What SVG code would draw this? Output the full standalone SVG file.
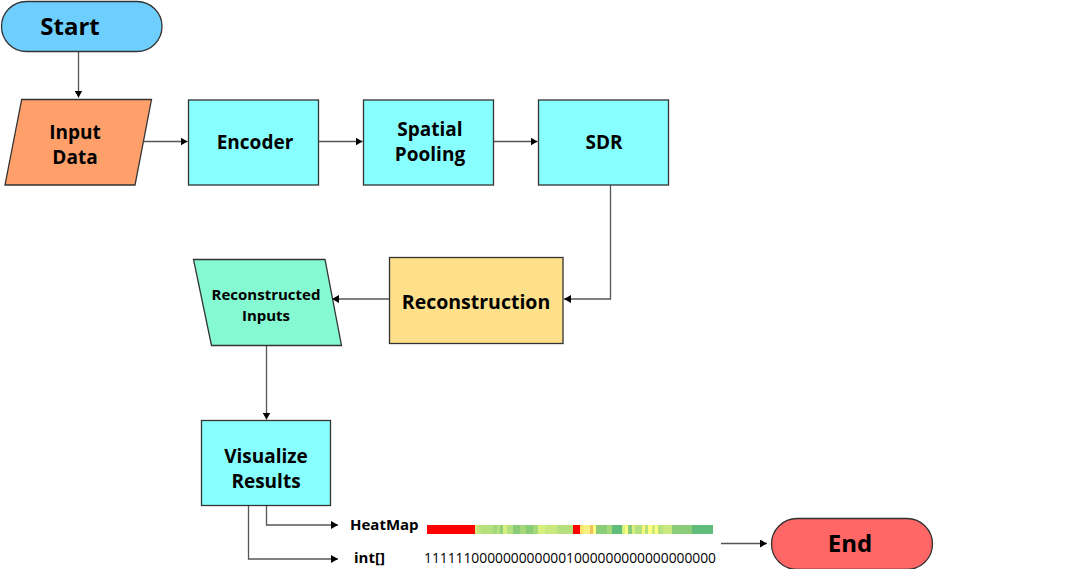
<svg xmlns="http://www.w3.org/2000/svg" width="1066" height="569" viewBox="0 0 1066 569">
<style>
.n{stroke:#333;stroke-width:1.3}
.t{font-family:"Open Sans","Liberation Sans",sans-serif;font-weight:700;fill:#000;text-anchor:middle}
.c{fill:none;stroke:#555;stroke-width:1.3}
</style>
<defs>
<marker id="ah" viewBox="0 0 10 10" refX="10" refY="5" markerWidth="7" markerHeight="8" markerUnits="userSpaceOnUse" orient="auto" preserveAspectRatio="none"><path d="M0,0L10,5L0,10Z" fill="#000"/></marker>
</defs>
<rect width="1066" height="569" fill="#fff"/>
<g id="connectors">
<path class="c" d="M78.5,52V97.5" marker-end="url(#ah)"/>
<path class="c" d="M143.5,141.5H187.5" marker-end="url(#ah)"/>
<path class="c" d="M318.5,141.5H362.5" marker-end="url(#ah)"/>
<path class="c" d="M493.5,141.5H537.5" marker-end="url(#ah)"/>
<path class="c" d="M610.5,185V299H564" marker-end="url(#ah)"/>
<path class="c" d="M389.5,299H332" marker-end="url(#ah)"/>
<path class="c" d="M266.5,346V419.5" marker-end="url(#ah)"/>
<path class="c" d="M266.5,506V525H338" marker-end="url(#ah)"/>
<path class="c" d="M248.5,506V559H338" marker-end="url(#ah)"/>
<path class="c" d="M721,543.5H767" marker-end="url(#ah)"/>
</g>
<g id="start">
<rect class="n" x="1.5" y="1.5" width="160.5" height="50" rx="25" fill="#6ecfff"/>
<text class="t" x="70" y="35" font-size="24">Start</text>
</g>
<g id="input-data">
<polygon class="n" points="21.7,99.5 151.5,99.5 135,185 5,185" fill="#ffa06b"/>
<text class="t" x="75" y="138.5" font-size="19">Input</text>
<text class="t" x="75" y="163.5" font-size="19">Data</text>
</g>
<g id="encoder">
<rect class="n" x="188.5" y="100" width="130" height="85" fill="#88ffff"/>
<text class="t" x="255" y="149" font-size="19">Encoder</text>
</g>
<g id="spatial-pooling">
<rect class="n" x="363.5" y="100" width="130" height="85" fill="#88ffff"/>
<text class="t" x="430" y="136" font-size="19">Spatial</text>
<text class="t" x="430" y="161" font-size="19">Pooling</text>
</g>
<g id="sdr">
<rect class="n" x="538.5" y="100" width="130" height="85" fill="#88ffff"/>
<text class="t" x="604" y="149" font-size="19">SDR</text>
</g>
<g id="reconstruction">
<rect class="n" x="389.5" y="257.5" width="173.5" height="86" fill="#ffe08a"/>
<text class="t" x="476" y="309" font-size="19.5">Reconstruction</text>
</g>
<g id="reconstructed-inputs">
<polygon class="n" points="193.5,259.5 325,259.5 341.5,345.5 211.5,345.5" fill="#85f9d1"/>
<text class="t" x="266" y="300" font-size="15">Reconstructed</text>
<text class="t" x="266" y="321" font-size="15">Inputs</text>
</g>
<g id="visualize-results">
<rect class="n" x="201.5" y="420.5" width="129" height="85" fill="#88ffff"/>
<text class="t" x="266" y="463" font-size="19">Visualize</text>
<text class="t" x="266" y="488" font-size="19">Results</text>
</g>
<g id="heatmap">
<text class="t" x="350" y="530" font-size="15" style="text-anchor:start">HeatMap</text>
<g shape-rendering="crispEdges">
<rect x="426.7" y="525" width="48.3" height="9" fill="#ff0000"/>
<rect x="475" y="525" width="2.3" height="9" fill="#d4ec7e"/>
<rect x="477.3" y="525" width="3.4" height="9" fill="#c2e27e"/>
<rect x="480.7" y="525" width="12.6" height="9" fill="#b5e07e"/>
<rect x="493.3" y="525" width="4" height="9" fill="#a5d87a"/>
<rect x="497.3" y="525" width="2.7" height="9" fill="#b5e07e"/>
<rect x="500" y="525" width="3.3" height="9" fill="#8fd07a"/>
<rect x="503.3" y="525" width="4" height="9" fill="#d6f07e"/>
<rect x="507.3" y="525" width="5.4" height="9" fill="#b5e07e"/>
<rect x="512.7" y="525" width="7.3" height="9" fill="#8acc78"/>
<rect x="520" y="525" width="6" height="9" fill="#a5d87a"/>
<rect x="526" y="525" width="6.7" height="9" fill="#8acc78"/>
<rect x="532.7" y="525" width="5.6" height="9" fill="#a5d87a"/>
<rect x="538.3" y="525" width="6.7" height="9" fill="#d6f07e"/>
<rect x="545" y="525" width="12.3" height="9" fill="#c9e87e"/>
<rect x="557.3" y="525" width="16" height="9" fill="#b5e07e"/>
<rect x="573.3" y="525" width="6.7" height="9" fill="#ff0000"/>
<rect x="580" y="525" width="3.3" height="9" fill="#ffe066"/>
<rect x="583.3" y="525" width="6.7" height="9" fill="#f8f080"/>
<rect x="590" y="525" width="3.3" height="9" fill="#f0c060"/>
<rect x="593.3" y="525" width="2.7" height="9" fill="#ffff80"/>
<rect x="596" y="525" width="10.7" height="9" fill="#8acc78"/>
<rect x="606.7" y="525" width="5" height="9" fill="#a5d87a"/>
<rect x="611.7" y="525" width="10" height="9" fill="#60bd7a"/>
<rect x="621.7" y="525" width="3.3" height="9" fill="#d6f07e"/>
<rect x="625" y="525" width="3.3" height="9" fill="#ffff80"/>
<rect x="628.3" y="525" width="3.4" height="9" fill="#8acc78"/>
<rect x="631.7" y="525" width="3.3" height="9" fill="#d6f07e"/>
<rect x="635" y="525" width="6.7" height="9" fill="#b5e07e"/>
<rect x="641.7" y="525" width="3.3" height="9" fill="#f6f87e"/>
<rect x="645" y="525" width="3.3" height="9" fill="#b5e07e"/>
<rect x="648.3" y="525" width="3.4" height="9" fill="#ffff80"/>
<rect x="651.7" y="525" width="3.3" height="9" fill="#c9e87e"/>
<rect x="655" y="525" width="3.3" height="9" fill="#ffff80"/>
<rect x="658.3" y="525" width="5" height="9" fill="#b5e07e"/>
<rect x="663.3" y="525" width="8.4" height="9" fill="#c9e87e"/>
<rect x="671.7" y="525" width="20" height="9" fill="#8acc78"/>
<rect x="691.7" y="525" width="21.6" height="9" fill="#60bd7a"/>
</g>
</g>
<g id="int-array">
<text class="t" x="354" y="563" font-size="15" style="text-anchor:start">int[]</text>
<text x="424" y="563" font-size="14.5" textLength="292" lengthAdjust="spacingAndGlyphs" style="font-family:'Open Sans','Liberation Sans',sans-serif" fill="#000">1111110000000000001000000000000000000</text>
</g>
<g id="end">
<rect class="n" x="771.5" y="518.5" width="161" height="51" rx="25.5" fill="#ff6666"/>
<text class="t" x="850" y="552" font-size="24">End</text>
</g>
</svg>
